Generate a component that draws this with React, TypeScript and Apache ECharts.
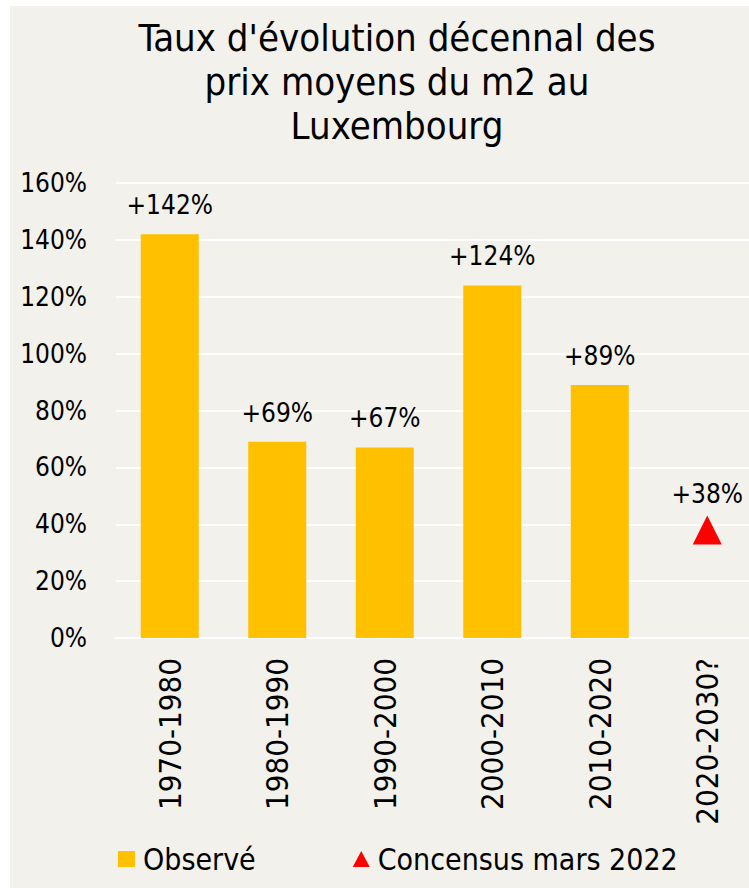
import React, { useEffect, useRef } from "react";
import * as echarts from "echarts";

const categories = ["1970-1980", "1980-1990", "1990-2000", "2000-2010", "2010-2020", "2020-2030?"];
const observed = [142, 69, 67, 124, 89, "-"];
const consensus = ["-", "-", "-", "-", "-", 38];
const yTicks = { min: 0, max: 160, interval: 20 };
const titleText = "Taux d'évolution décennal des\nprix moyens du m2 au\nLuxembourg";
const seriesNames = ["Observé", "Concensus mars 2022"];

const FONT = "'DejaVu Sans Condensed', 'DejaVu Sans', sans-serif";

export default function App() {
  const ref = useRef<HTMLDivElement>(null);
  useEffect(() => {
    if (!ref.current) return;
    const chart = echarts.init(ref.current, undefined, { renderer: "svg" });
    chart.setOption({
      animation: false,
      backgroundColor: "#F2F1EC",
      textStyle: { fontFamily: FONT },
      title: {
        text: titleText,
        left: 382,
        top: 5,
        textAlign: "center",
        textStyle: { fontFamily: FONT, fontSize: 38, fontWeight: "normal", color: "#000", lineHeight: 44 },
      },
      legend: {
        left: 103,
        top: 833,
        itemGap: 97,
        itemWidth: 17,
        itemHeight: 16,
        textStyle: { fontFamily: FONT, fontSize: 30, color: "#000", padding: [0, 0, 0, 3] },
        data: [
          { name: seriesNames[0], icon: "rect" },
          { name: seriesNames[1], icon: "triangle" },
        ],
      },
      grid: { left: 106, right: 0, top: 177, bottom: 250, containLabel: false },
      xAxis: {
        type: "category",
        data: categories,
        axisLine: { show: true, lineStyle: { color: "#FFFFFF", width: 2 } },
        axisTick: { show: false },
        axisLabel: { rotate: 90, margin: 20, fontSize: 31, color: "#000", fontFamily: FONT },
      },
      yAxis: {
        type: "value",
        min: yTicks.min,
        max: yTicks.max,
        interval: yTicks.interval,
        axisLine: { show: false },
        axisTick: { show: false },
        splitLine: { show: true, lineStyle: { color: "#FFFFFF", width: 2 } },
        axisLabel: { formatter: "{value}%", margin: 29, fontSize: 26, color: "#000", fontFamily: FONT },
      },
      series: [
        {
          name: seriesNames[0],
          type: "bar",
          data: observed,
          barWidth: 58,
          itemStyle: { color: "#FFC000" },
          label: {
            show: true,
            position: "top",
            distance: 16,
            fontSize: 26,
            color: "#000",
            fontFamily: FONT,
            formatter: (p: any) => "+" + p.value + "%",
          },
        },
        {
          name: seriesNames[1],
          type: "scatter",
          data: consensus,
          symbol: "triangle",
          symbolSize: 29,
          itemStyle: { color: "#FF0000", opacity: 1 },
          label: {
            show: true,
            position: "top",
            distance: 8,
            fontSize: 26,
            color: "#000",
            fontFamily: FONT,
            formatter: (p: any) => "+" + p.value + "%",
          },
        },
      ],
    });
    return () => chart.dispose();
  }, []);
  return (
    <div style={{ position: "absolute", left: 10, top: 6, width: 739, height: 882, overflow: "hidden" }}>
      <div ref={ref} style={{ width: 751, height: 882 }} />
    </div>
  );
}
